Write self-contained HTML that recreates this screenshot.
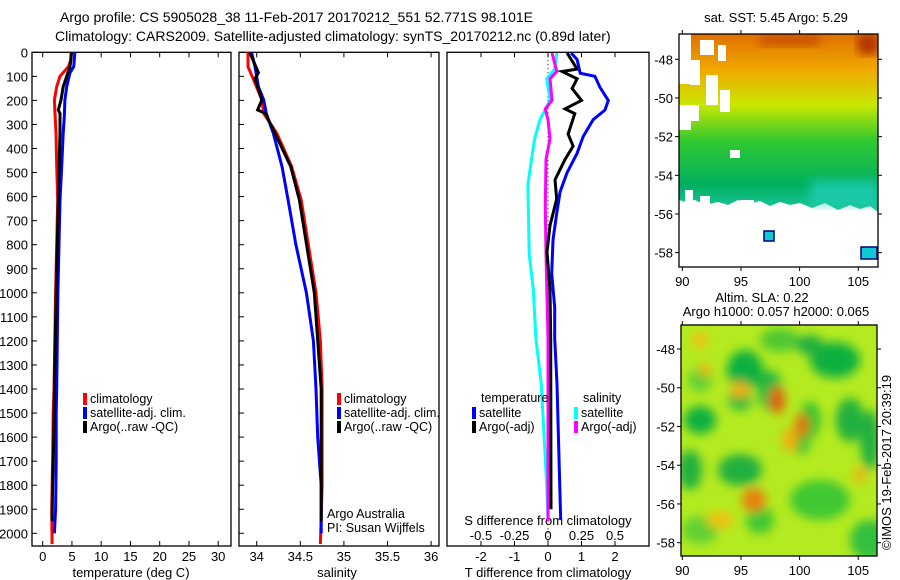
<!DOCTYPE html>
<html><head><meta charset="utf-8"><style>
html,body{margin:0;padding:0;background:#fff;}
svg{display:block;font-family:"Liberation Sans",sans-serif;}
text{font-size:13px;fill:#000;}
</style></head><body>
<svg id="fig" width="900" height="580" viewBox="0 0 900 580" xmlns="http://www.w3.org/2000/svg">
<defs>
<filter id="blur" x="-20%" y="-20%" width="140%" height="140%"><feGaussianBlur stdDeviation="5"/></filter>
<clipPath id="clipTop"><rect x="679" y="34" width="199" height="233"/></clipPath>
<clipPath id="clipBot"><rect x="681" y="325" width="196" height="231"/></clipPath>
<linearGradient id="sstGrad" x1="0" y1="0" x2="0" y2="1">
<stop offset="0" stop-color="#e07000"/><stop offset="0.2" stop-color="#f0a800"/><stop offset="0.4" stop-color="#c8e800"/><stop offset="0.6" stop-color="#30c830"/><stop offset="0.85" stop-color="#00b060"/><stop offset="1" stop-color="#20c8a0"/>
</linearGradient>
</defs>
<text x="60" y="22" style="font-size:14px">Argo profile: CS 5905028_38 11-Feb-2017 20170212_551 52.771S 98.101E</text>
<text x="55" y="41" style="font-size:14px">Climatology: CARS2009. Satellite-adjusted climatology: synTS_20170212.nc (0.89d later)</text>
<g id="p1"></g>
<g id="p2"></g>
<g id="p3"></g>
<g id="m1"></g>
<g id="m2"></g>
<text transform="translate(891,550) rotate(-90)" style="font-size:13px">©IMOS 19-Feb-2017 20:39:19</text>
</svg>
<script>
// ---- data ----
const depthTicks=[0,100,200,300,400,500,600,700,800,900,1000,1100,1200,1300,1400,1500,1600,1700,1800,1900,2000];
const tempTicks=[0,5,10,15,20,25,30];
const salTicks=[34,34.5,35,35.5,36];
const salTickLabels=["34","34.5","35","35.5","36"];
const tdiffTicks=[-2,-1,0,1,2];
const sdiffTicks=[-0.5,-0.25,0,0.25,0.5];
const sdiffTickLabels=["-0.5","-0.25","0","0.25","0.5"];

const climTDepth=[0,32,60,100,143,198,254,337,475,614,1000,1400,1500,1700,1900,2045];
const climTVal=[4.84,4.8,4.4,2.96,2.4,2.0,2.1,2.27,2.4,2.56,2.2,1.93,1.8,1.7,1.54,1.6];
const satTDepth=[0,60,85,143,198,268,337,475,614,1000,1400,1500,1700,1900,2000];
const satTVal=[5.5,5.3,4.67,4.1,3.8,3.7,3.5,3.25,2.96,2.6,2.4,2.3,2.3,2.2,2.0];
const argoTDepth=[0,60,100,143,198,240,254,337,475,614,1000,1400,1600,1800,1950];
const argoTVal=[4.95,4.67,4.1,3.5,3.13,2.67,2.96,2.96,2.8,2.67,2.3,2.0,1.9,1.7,1.6];

const climSDepth=[0,60,110,198,254,337,475,614,1000,1200,1400,1800,2045];
const climSVal=[33.9,33.9,33.96,34.06,34.08,34.23,34.40,34.51,34.68,34.73,34.75,34.75,34.73];
const satSDepth=[0,60,143,198,254,337,475,614,800,1000,1200,1400,1600,1800,2000];
const satSVal=[33.94,33.98,34.02,34.08,34.11,34.19,34.29,34.36,34.45,34.57,34.65,34.68,34.70,34.74,34.74];
const argoSDepth=[0,85,110,198,240,254,337,475,614,1000,1400,1800,1950];
const argoSVal=[33.92,34.02,33.98,34.06,34.01,34.1,34.21,34.39,34.49,34.66,34.74,34.74,34.74];

const dSatTDepth=[3,30,87,100,145,200,240,280,350,420,500,580,670,780,920,1060,1190,1380,1945];
const dSatTVal=[0.69,0.87,0.96,1.4,1.55,1.8,1.7,1.35,1.05,0.87,0.57,0.36,0.26,0.15,0.11,0.2,0.2,0.27,0.38];
const dArgoTDepth=[3,70,80,110,150,200,235,255,340,390,445,530,610,720,830,985,1190,1900];
const dArgoTVal=[0.57,0.87,0.42,0.87,0.72,1.0,0.51,0.8,0.6,0.75,0.51,0.21,0.26,0.06,-0.03,0.06,0.08,0.09];
const dSatSDepth=[3,70,110,200,280,360,470,550,840,985,1190,1380,1800,1950];
const dSatSVal=[0.066,0.05,-0.01,0.015,-0.06,-0.1,-0.13,-0.15,-0.14,-0.11,-0.09,-0.05,-0.01,0.0];
const dArgoSDepth=[3,80,110,200,235,280,360,445,640,840,1190,1950];
const dArgoSVal=[0.03,0.066,0.015,0.03,-0.02,0,0.015,-0.015,-0.02,-0.015,0,0];

const lonTicks=[90,95,100,105];
const latTicks=[-48,-50,-52,-54,-56,-58];

// ---- helpers ----
const NS="http://www.w3.org/2000/svg";
function mk(parent,tag,attrs,txt){const e=document.createElementNS(NS,tag);for(const k in attrs)e.setAttribute(k,attrs[k]);if(txt!==undefined)e.textContent=txt;parent.appendChild(e);return e;}
const Y0=52.3,Y1=546,yD=d=>Y0+d*0.2405;
function stepPath(xs,ds,xf){let p="";for(let i=0;i<xs.length;i++){const x=xf(xs[i]),y=yD(ds[i]);p+=(i?"L":"M")+x.toFixed(1)+","+y.toFixed(1);}return p;}

function frame(g,x0,x1,name){
  const r=mk(g,"rect",{x:x0,y:Y0,width:x1-x0,height:Y1-Y0,fill:"none",stroke:"#000","stroke-width":1.3});
  
  
}
function line(g,xs,ds,xf,color,name){
  const p=mk(g,"path",{d:stepPath(xs,ds,xf),fill:"none",stroke:color,"stroke-width":3,"stroke-linejoin":"miter"});
  
  
}
function legend(g,x,y,color,label,name){
  const e=mk(g,"g",{});
  
  
  mk(e,"rect",{x:x,y:y-10,width:4,height:12,fill:color});
  mk(e,"text",{x:x+7,y:y,style:"font-size:12.5px"},label);
}

// panel 1
const p1=document.getElementById('p1');
const xT=t=>42.7+t*5.85;
frame(p1,32,231,'temperature-axes-frame');
depthTicks.forEach(d=>{const y=yD(d);mk(p1,"line",{x1:32,y1:y,x2:37,y2:y,stroke:"#000"});
  const t=mk(p1,"text",{x:28,y:y+5,"text-anchor":"end"},String(d));
  
  });
tempTicks.forEach(v=>{const x=xT(v);mk(p1,"line",{x1:x,y1:Y1,x2:x,y2:Y1-5,stroke:"#000"});mk(p1,"line",{x1:x,y1:Y0,x2:x,y2:Y0+5,stroke:"#000"});
  const t=mk(p1,"text",{x:x,y:561,"text-anchor":"middle"},String(v));
  
  });
mk(p1,"text",{x:131,y:577,"text-anchor":"middle"},"temperature (deg C)");
line(p1,climTVal,climTDepth,xT,"#ff0000","clim-temperature-line");
line(p1,satTVal,satTDepth,xT,"#0000ff","satellite-temperature-line");
line(p1,argoTVal,argoTDepth,xT,"#000000","argo-temperature-line");
legend(p1,83,403,"#ff0000","climatology","legend-climatology");
legend(p1,83,417,"#0000ff","satellite-adj. clim.","legend-satellite");
legend(p1,83,431,"#000000","Argo(..raw -QC)","legend-argo");

// panel 2
const p2=document.getElementById('p2');
const xS=s=>256.7+(s-34)*87.2;
frame(p2,239,439,'salinity-axes-frame');
salTicks.forEach((v,i)=>{const x=xS(v);mk(p2,"line",{x1:x,y1:Y1,x2:x,y2:Y1-5,stroke:"#000"});mk(p2,"line",{x1:x,y1:Y0,x2:x,y2:Y0+5,stroke:"#000"});
  const t=mk(p2,"text",{x:x,y:561,"text-anchor":"middle"},salTickLabels[i]);
  
  });
depthTicks.forEach(d=>{const y=yD(d);mk(p2,"line",{x1:239,y1:y,x2:244,y2:y,stroke:"#000"});});
mk(p2,"text",{x:337,y:577,"text-anchor":"middle"},"salinity");
line(p2,climSVal,climSDepth,xS,"#ff0000","clim-salinity-line");
line(p2,satSVal,satSDepth,xS,"#0000ff","satellite-salinity-line");
line(p2,argoSVal,argoSDepth,xS,"#000000","argo-salinity-line");
legend(p2,337,403,"#ff0000","climatology","legend-climatology-sal");
legend(p2,337,417,"#0000ff","satellite-adj. clim.","legend-satellite-sal");
legend(p2,337,431,"#000000","Argo(..raw -QC)","legend-argo-sal");
mk(p2,"text",{x:327,y:518,style:"font-size:12.5px"},"Argo Australia");
mk(p2,"text",{x:327,y:532,style:"font-size:12.5px"},"PI: Susan Wijffels");

// panel 3
const p3=document.getElementById('p3');
const xDT=v=>548+v*33.5;
const xDS=v=>548+v*134;
frame(p3,447,649,'difference-axes-frame');
mk(p3,"line",{x1:548,y1:Y0,x2:548,y2:Y1,stroke:"#000","stroke-dasharray":"1,3"});
tdiffTicks.forEach(v=>{const x=xDT(v);mk(p3,"line",{x1:x,y1:Y1,x2:x,y2:Y1-5,stroke:"#000"});
  const t=mk(p3,"text",{x:x,y:561,"text-anchor":"middle"},String(v));
  
  });
sdiffTicks.forEach((v,i)=>{const x=xDS(v);mk(p3,"line",{x1:x,y1:Y0,x2:x,y2:Y0+5,stroke:"#000"});
  const t=mk(p3,"text",{x:x,y:540,"text-anchor":"middle"},sdiffTickLabels[i]);
  
  });
mk(p3,"text",{x:548,y:525,"text-anchor":"middle"},"S difference from climatology");
mk(p3,"text",{x:548,y:577,"text-anchor":"middle"},"T difference from climatology");
line(p3,dSatSVal,dSatSDepth,xDS,"#00ffff","satellite-sal-diff-line");
line(p3,dArgoSVal,dArgoSDepth,xDS,"#ff00ff","argo-sal-diff-line");
line(p3,dArgoTVal,dArgoTDepth,xDT,"#000000","argo-temp-diff-line");
line(p3,dSatTVal,dSatTDepth,xDT,"#0000ff","satellite-temp-diff-line");
mk(p3,"text",{x:481,y:402,style:"font-size:12.5px"},"temperature");
mk(p3,"text",{x:583,y:402,style:"font-size:12.5px"},"salinity");
legend(p3,472,417,"#0000ff","satellite","legend-temp-satellite");
legend(p3,472,431,"#000000","Argo(-adj)","legend-temp-argo");
legend(p3,574,417,"#00ffff","satellite","legend-sal-satellite");
legend(p3,574,431,"#ff00ff","Argo(-adj)","legend-sal-argo");

// maps
function mapAxes(g,x0,y0,w,h,latY0,latStep){
  const lx=lon=>682.3+(lon-90)*11.73;
  lonTicks.forEach(v=>{const x=lx(v);mk(g,"line",{x1:x,y1:y0+h,x2:x,y2:y0+h+4,stroke:"#000"});mk(g,"line",{x1:x,y1:y0,x2:x,y2:y0-4,stroke:"#000"});
    const t=mk(g,"text",{x:x,y:y0+h+19,"text-anchor":"middle"},String(v));
    
    });
  latTicks.forEach((v,i)=>{const y=latY0+i*latStep;mk(g,"line",{x1:x0,y1:y,x2:x0-4,y2:y,stroke:"#000"});mk(g,"line",{x1:x0+w,y1:y,x2:x0+w+4,y2:y,stroke:"#000"});
    const t=mk(g,"text",{x:x0-6,y:y+5,"text-anchor":"end"},String(v));
    
    });
  mk(g,"rect",{x:x0,y:y0,width:w,height:h,fill:"none",stroke:"#000","stroke-width":1.3});
}
const m1=document.getElementById('m1');
mk(m1,"text",{x:776,y:22,"text-anchor":"middle"},"sat. SST: 5.45 Argo: 5.29");
const tg=mk(m1,"g",{"clip-path":"url(#clipTop)"});
mk(tg,"path",{d:"M679,34H878V212L870,206L860,209L850,205L838,210L825,203L812,208L800,203L790,205L780,202L770,206L760,201L748,204L738,200L728,205L718,202L705,205L695,200L686,202L679,200Z",fill:"url(#sstGrad)"});
mk(tg,"rect",{x:858,y:34,width:20,height:20,fill:"#b03000",filter:"url(#blur)"});
mk(tg,"rect",{x:760,y:34,width:60,height:12,fill:"#c04000",opacity:0.7,filter:"url(#blur)"});
mk(tg,"rect",{x:810,y:180,width:68,height:25,fill:"#20d0c0",opacity:0.7,filter:"url(#blur)"});
[[679,34,12,50],[690,60,10,25],[700,40,14,15],[706,75,12,30],[718,45,8,16],[720,90,10,22],[679,105,20,16],[679,120,12,10],[730,150,10,8],[685,190,8,14],[700,196,10,18],[740,200,14,16]].forEach(r=>mk(tg,"rect",{x:r[0],y:r[1],width:r[2],height:r[3],fill:"#fff"}));
mk(tg,"rect",{x:764,y:231,width:10,height:10,fill:"#10c8d0",stroke:"#000080","stroke-width":1.5});
mk(tg,"rect",{x:861,y:247,width:16,height:12,fill:"#10c8d0",stroke:"#000080","stroke-width":1.5});
mapAxes(m1,679,34,199,233,59.3,38.67);

const m2=document.getElementById('m2');
mk(m2,"text",{x:762,y:302,"text-anchor":"middle"},"Altim. SLA: 0.22");
mk(m2,"text",{x:776,y:316,"text-anchor":"middle"},"Argo h1000: 0.057 h2000: 0.065");
const bg=mk(m2,"g",{"clip-path":"url(#clipBot)"});
mk(bg,"rect",{x:681,y:325,width:196,height:231,fill:"#b4ea20"});
const bl=mk(bg,"g",{filter:"url(#blur)"});
[[745,370,18,20,"#10b040"],[700,420,16,14,"#10b040"],[740,400,12,10,"#20b840"],[835,360,25,18,"#10b040"],[690,470,12,20,"#20b040"],[740,470,22,16,"#20b040"],[770,390,12,20,"#20b840"],[810,420,10,18,"#20c030"],[850,420,14,22,"#20b040"],[870,440,10,30,"#20b040"],[800,440,10,14,"#30c030"],[820,500,30,20,"#40c830"],[760,520,14,14,"#40c830"],[700,530,18,14,"#60d030"],[870,540,20,20,"#30c040"],[780,340,20,12,"#50c830"],[810,345,14,10,"#20b040"],[700,380,12,12,"#60d030"]].forEach(c=>mk(bl,"ellipse",{cx:c[0],cy:c[1],rx:c[2],ry:c[3],fill:c[4]}));
[[777,400,8,14,"#e06010"],[802,425,7,12,"#e07010"],[754,500,12,12,"#e88010"],[740,390,10,8,"#f0b010"],[720,520,14,8,"#f0c010"],[860,475,6,8,"#f0b010"],[700,340,8,8,"#f0c010"],[705,370,6,6,"#f0b010"],[790,440,8,12,"#f0b010"]].forEach(c=>mk(bl,"ellipse",{cx:c[0],cy:c[1],rx:c[2],ry:c[3],fill:c[4]}));
mapAxes(m2,681,325,196,231,349,38.74);
</script>
</body></html>
